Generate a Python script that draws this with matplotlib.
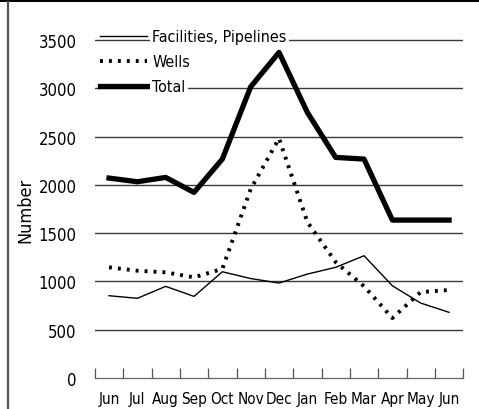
import matplotlib
matplotlib.use('Agg')
import matplotlib.pyplot as plt
from matplotlib.lines import Line2D
from matplotlib.patches import Rectangle

plt.rcParams['font.family'] = ['DejaVu Sans']
plt.rcParams['font.stretch'] = 'condensed'

months = ['Jun', 'Jul', 'Aug', 'Sep', 'Oct', 'Nov', 'Dec',
          'Jan', 'Feb', 'Mar', 'Apr', 'May', 'Jun']
facilities = [852, 825, 949, 845, 1100, 1030, 983, 1076, 1146, 1266, 955, 776, 680]
wells = [1146, 1111, 1094, 1042, 1130, 1956, 2480, 1615, 1200, 950, 621, 890, 911]
total = [2070, 2032, 2077, 1922, 2267, 3015, 3371, 2750, 2284, 2267, 1635, 1635, 1635]
yticks = [0, 500, 1000, 1500, 2000, 2500, 3000, 3500]

fig = plt.figure(figsize=(4.79, 4.10), dpi=100)
ax = fig.add_axes([0.198, 0.0756, 0.769, 0.848])

x = list(range(len(months)))
ax.plot(x, facilities, color='black', lw=1.0, label='Facilities, Pipelines', zorder=3)
ax.plot(x, wells, color='black', lw=2.8, linestyle=(0, (0.75, 1.55)), label='Wells', zorder=3)
ax.plot(x, total, color='black', lw=3.8, label='Total', zorder=3)

ax.set_xlim(-0.5, len(months) - 0.5)
ax.set_ylim(0, 3600)
for v in yticks[1:]:
    ax.axhline(v, color='#3a3a3a', lw=1.0, zorder=1)

ax.set_yticks(yticks)
ax.tick_params(axis='y', length=0, labelsize=12, pad=13)
ax.set_xticks(x)
ax.set_xticklabels(months)
ax.set_xticks([i - 0.5 for i in range(len(months) + 1)], minor=True)
ax.tick_params(axis='x', which='major', length=0, labelsize=11, pad=9)
ax.tick_params(axis='x', which='minor', direction='in', length=7.5, color='#555555', width=0.9)

for s in ['top', 'right', 'left']:
    ax.spines[s].set_visible(False)
ax.spines['bottom'].set_color('#666666')
ax.spines['bottom'].set_linewidth(0.9)

ax.set_ylabel('Number', fontsize=13)
ax.yaxis.set_label_coords(-0.165, 0.486)

leg = ax.legend(loc='upper left', bbox_to_anchor=(0.206, 0.93), bbox_transform=fig.transFigure,
                frameon=False, fontsize=11.5, handlelength=2.95, handletextpad=0.3,
                labelspacing=0.62, borderpad=0.1, borderaxespad=0)
leg.set_zorder(2)
for t in leg.get_texts():
    t.set_bbox(dict(facecolor='white', edgecolor='none', pad=1.5))

fig.add_artist(Rectangle((0, 1 - 3 / 410), 1, 3 / 410, transform=fig.transFigure,
                         color='black', lw=0))
fig.add_artist(Line2D([7.5 / 479, 7.5 / 479], [0, 1 - 3 / 410], transform=fig.transFigure,
                      color='#555555', lw=1.6))

fig.savefig('out.png', dpi=100)
